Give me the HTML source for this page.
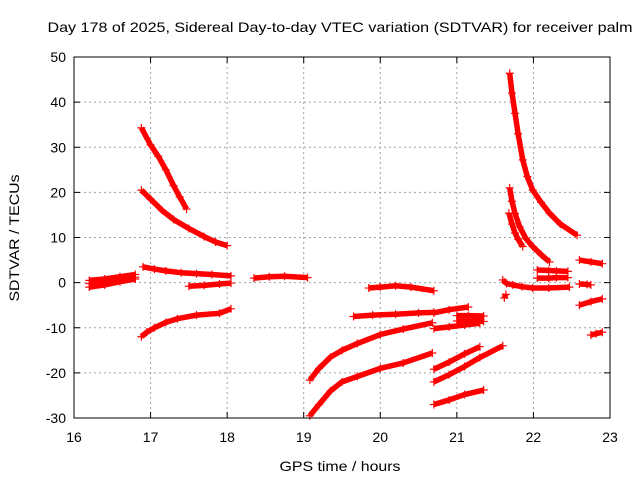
<!DOCTYPE html>
<html><head><meta charset="utf-8"><style>
body{margin:0;background:#fff}
svg{display:block;font-family:"Liberation Sans",sans-serif}
</style></head><body>
<svg id="c" width="640" height="480">
<rect width="640" height="480" fill="#fff"/>
<text x="340" y="32" text-anchor="middle" font-size="14" textLength="585" lengthAdjust="spacingAndGlyphs">Day 178 of 2025, Sidereal Day-to-day VTEC variation (SDTVAR) for receiver palm</text>
<text x="340" y="471" text-anchor="middle" font-size="14" textLength="121" lengthAdjust="spacingAndGlyphs">GPS time / hours</text>
<text transform="translate(19,238) rotate(-90)" text-anchor="middle" font-size="14" textLength="127" lengthAdjust="spacingAndGlyphs">SDTVAR / TECUs</text>
<g id="grid"></g><g id="marks"></g>
<rect x="74" y="57" width="536" height="361" fill="none" stroke="#000" stroke-width="1"/>
</svg>
<script>
const xTicks=[16,17,18,19,20,21,22,23];
const yTicks=[-30,-20,-10,0,10,20,30,40,50];
// each segment: times (hours) and values (TECU)
const segTimes=[
[16.2,16.4,16.6,16.8],
[16.2,16.4,16.6,16.8],
[16.88,17.0,17.1,17.2,17.3,17.38,17.47],
[16.88,17.0,17.15,17.3,17.5,17.7,17.85,18.0],
[16.9,17.05,17.2,17.4,17.6,17.8,18.05],
[17.5,17.7,17.9,18.05],
[16.88,16.95,17.05,17.2,17.35,17.6,17.9,18.05],
[18.35,18.55,18.75,19.05],
[19.85,20.0,20.2,20.4,20.7],
[19.65,19.9,20.2,20.5,20.7],
[20.7,20.9,21.15],
[21.0,21.15,21.35],
[21.0,21.15,21.35],
[20.7,20.9,21.1,21.3],
[19.08,19.2,19.35,19.5,19.7,20.0,20.3,20.68],
[19.08,19.2,19.35,19.5,19.7,20.0,20.3,20.68],
[20.7,20.9,21.1,21.3],
[20.7,20.9,21.1,21.3,21.6],
[20.7,20.9,21.1,21.35],
[21.69,21.72,21.76,21.8,21.86,21.92,21.99,22.1,22.21,22.35,22.57],
[21.69,21.72,21.76,21.82,21.9,21.99,22.1,22.21],
[21.68,21.72,21.76,21.8,21.86],
[21.6,21.65,21.73,21.85,21.99,22.2,22.47],
[22.05,22.2,22.3,22.45],
[22.05,22.2,22.3,22.45],
[22.6,22.75,22.9],
[22.6,22.7,22.75],
[22.6,22.75,22.9],
[22.75,22.82,22.9],
[21.62,21.64],
[16.2,16.4,16.6,16.8]
];
const segValues=[
[-1,-0.5,0.2,0.8],
[0.5,0.8,1.3,1.8],
[34.3,30.5,28,25,21.5,19,16.3],
[20.5,18.5,16,14,12,10.2,9,8.2],
[3.5,3,2.6,2.2,2,1.8,1.5],
[-0.8,-0.6,-0.3,-0.1],
[-12,-11,-10,-8.8,-8,-7.2,-6.8,-5.8],
[1,1.3,1.4,1.1],
[-1.2,-1,-0.7,-1,-1.8],
[-7.5,-7.2,-7,-6.7,-6.6],
[-6.7,-6,-5.4],
[-7.3,-7.3,-7.4],
[-8.5,-8.5,-8.6],
[-10.2,-9.8,-9.4,-9],
[-21.6,-19,-16.5,-15,-13.5,-11.5,-10.3,-8.9],
[-29.5,-27,-24,-22,-20.8,-19,-17.8,-15.6],
[-19.2,-17.6,-15.8,-14.2],
[-22,-20.4,-18.6,-16.6,-14],
[-27,-26,-24.8,-23.8],
[46.4,42,37.5,33,27.2,23.5,20.5,17.8,15.4,13,10.5],
[21,18,15.3,12.4,9.8,8,6.2,4.6],
[15.4,13,11,9.6,8],
[0.6,-0.2,-0.5,-0.9,-1.2,-1.2,-1],
[2.8,2.7,2.6,2.5],
[1,1,1.1,1.1],
[5,4.6,4.2],
[-0.3,-0.4,-0.5],
[-5,-4.2,-3.6],
[-11.6,-11.3,-11],
[-3.4,-2.6],
[-0.2,0.2,0.8,1.2]
];
const X0=16,X1=23,Y0=-30,Y1=50,L=74,R=610,T=57,B=418;
function xs(t){return L+(t-X0)/(X1-X0)*(R-L);}
function ys(v){return B-(v-Y0)/(Y1-Y0)*(B-T);}
const NS='http://www.w3.org/2000/svg';
const grid=document.getElementById('grid'),marks=document.getElementById('marks');
function mk(tag,attrs,parent){const e=document.createElementNS(NS,tag);for(const k in attrs)e.setAttribute(k,attrs[k]);parent.appendChild(e);return e;}
xTicks.forEach((t,i)=>{
 const x=xs(t);
 if(i>0&&i<xTicks.length-1){const g=mk('line',{x1:x,x2:x,y1:T,y2:B,stroke:'#a0a0a0','stroke-dasharray':'2,3'},grid);
 
 }
 const tk=mk('path',{d:`M${x},${B}v-6M${x},${T}v6`,stroke:'#000'},grid);
 
 
 const lb=mk('text',{x:x,y:B+24,'text-anchor':'middle','font-size':14},grid);lb.textContent=t;
 
 
});
yTicks.forEach((v,i)=>{
 const y=ys(v);
 if(i>0&&i<yTicks.length-1){const g=mk('line',{x1:L,x2:R,y1:y,y2:y,stroke:'#a0a0a0','stroke-dasharray':'2,3'},grid);
 
 }
 const tk=mk('path',{d:`M${L},${y}h6M${R},${y}h-6`,stroke:'#000'},grid);
 
 
 const lb=mk('text',{x:L-8,y:y+5,'text-anchor':'end','font-size':14},grid);lb.textContent=v;
 
 
});
segTimes.forEach((ts,s)=>{
 const vs=segValues[s];
 const g=mk('g',{},marks);
 
 
 const pts=ts.map((t,i)=>xs(t)+','+ys(vs[i])).join(' ');
 mk('polyline',{points:pts,fill:'none',stroke:'#f00','stroke-width':5.5,'stroke-linejoin':'round','stroke-linecap':'butt'},g);
 ts.forEach((t,i)=>{
  const x=xs(t),y=ys(vs[i]);
  const p=mk('path',{d:`M${x-4},${y}h8M${x},${y-4}v8`,stroke:'#f00','stroke-width':1.2},g);
  
  
 });
});
</script>
</body></html>
